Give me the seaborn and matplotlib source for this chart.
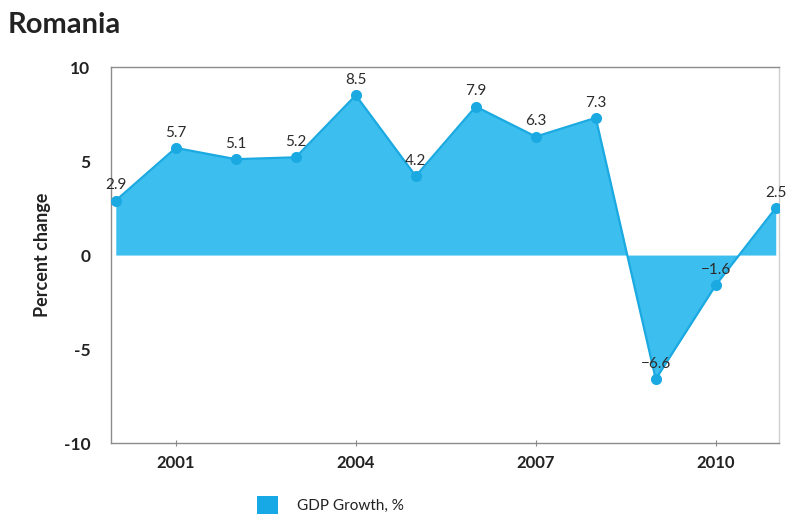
import matplotlib
matplotlib.use("Agg")
import matplotlib.pyplot as plt
from matplotlib.patches import Patch
import seaborn as sns
import pandas as pd

years = [2000, 2001, 2002, 2003, 2004, 2005, 2006, 2007, 2008, 2009, 2010, 2011]
gdp_growth = [2.9, 5.7, 5.1, 5.2, 8.5, 4.2, 7.9, 6.3, 7.3, -6.6, -1.6, 2.5]
x_ticks = [2001, 2004, 2007, 2010]
y_ticks = [-10, -5, 0, 5, 10]
series_name = "GDP Growth, %"

df = pd.DataFrame({"year": years, "growth": gdp_growth})

sns.set_theme(style="white")
plt.rcParams["font.family"] = ["Lato", "DejaVu Sans"]

fill_color = "#3CBEEE"
line_color = "#1AA9E1"

fig = plt.figure(figsize=(7.9, 5.2), dpi=100)
ax = fig.add_axes([0.1405, 0.148, 0.846, 0.723])

ax.fill_between(df["year"], df["growth"], 0, color=fill_color, linewidth=0, zorder=1)
sns.lineplot(data=df, x="year", y="growth", ax=ax, color=line_color, linewidth=1.6,
             marker="o", markersize=8, markeredgewidth=0, zorder=3)

for x, y in zip(df["year"], df["growth"]):
    ax.annotate(f"{y:.1f}".replace("-", "\u2212"), (x, y), xytext=(0, 6),
                textcoords="offset points", ha="center", va="bottom",
                fontsize=11, color="#2b2b2b", zorder=4)

ax.set_xlim(1999.92, 2011.06)
ax.set_ylim(-10, 10)
ax.set_xticks(x_ticks)
ax.set_xticklabels([str(t) for t in x_ticks], fontsize=12, fontweight="bold", color="#222222")
ax.set_yticks(y_ticks)
ax.set_yticklabels([str(t) for t in y_ticks], fontsize=12.5, fontweight="bold", color="#222222")
ax.tick_params(axis="x", which="major", bottom=True, length=5, width=0.8, color="#888888", pad=6,
               direction="inout")
ax.tick_params(axis="y", which="major", left=False, pad=9)
ax.set_xlabel("")
ax.set_ylabel("Percent change", fontsize=13, fontweight="bold", color="#222222", labelpad=9)

for side in ["left", "bottom", "top"]:
    ax.spines[side].set_color("#8c8c8c")
    ax.spines[side].set_linewidth(1.0)
ax.spines["right"].set_color("#cfcfcf")
ax.spines["right"].set_linewidth(1.0)

fig.text(0.01, 0.951, "Romania", fontsize=21, fontweight="bold", color="#222222",
         ha="left", va="center")

handle = Patch(facecolor="#17A9E6", edgecolor="none", label=series_name)
fig.legend(handles=[handle], loc="center", bbox_to_anchor=(0.418, 0.029), frameon=False,
           fontsize=11, handlelength=1.4, handleheight=1.4, handletextpad=1.2,
           labelcolor="#222222")

fig.savefig("out.png", dpi=100)
